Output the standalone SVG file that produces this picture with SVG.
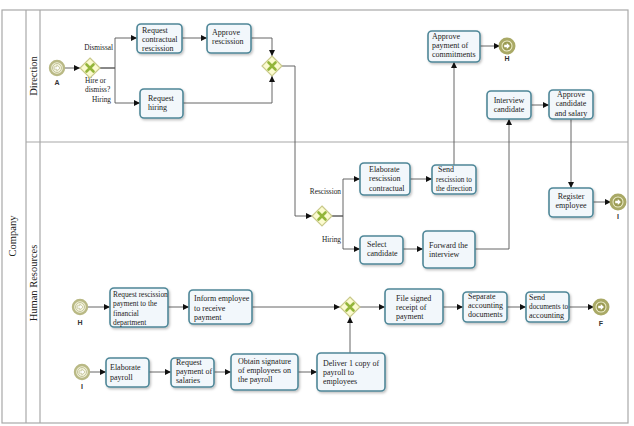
<svg xmlns="http://www.w3.org/2000/svg" width="634" height="426" viewBox="0 0 634 426">
<style>
.pool{fill:none;stroke:#a8a8a8;stroke-width:1.2}
.task rect{fill:#f2f7fb;stroke:#4f8798;stroke-width:1.6;filter:url(#sh)}
.task text{font-family:"Liberation Serif","Times New Roman",serif;font-size:8px;fill:#222}
.c{text-anchor:middle}
.gw polygon{fill:#fbfbcf;stroke:#c9c98a;stroke-width:1.2}
.gw path{stroke:#93b53a;stroke-width:2.6;stroke-linecap:round}
.ev .o{fill:#f3f3dc;stroke:#b9b985;stroke-width:2.4}
.ev .i{fill:none;stroke:#c4c49a;stroke-width:1}
.ev .ah{fill:#ffffff;stroke:#c4c49a;stroke-width:0.8}
.end .o{fill:#eeeecb;stroke:#a9a966;stroke-width:3}
.end .i{fill:#9a9a52;stroke:none}
.end .ah{fill:#ffffff;stroke:none}
.lbl{font-family:"Liberation Sans",Arial,sans-serif;font-size:7px;font-weight:bold;fill:#333;text-anchor:middle}
.gl{font-family:"Liberation Serif","Times New Roman",serif;font-size:7.3px;fill:#222}
.lane{font-family:"Liberation Serif","Times New Roman",serif;font-size:10.5px;fill:#222;text-anchor:middle}
#connectors path{fill:none;stroke:#555;stroke-width:0.9;marker-end:url(#arr)}
</style>
<defs>
<marker id="arr" markerUnits="userSpaceOnUse" markerWidth="7" markerHeight="6" refX="6" refY="3" orient="auto">
<path d="M0,0 L6,3 L0,6 z" fill="#111"/>
</marker>
<filter id="sh" x="-20%" y="-20%" width="150%" height="150%">
<feDropShadow dx="1.2" dy="1.5" stdDeviation="0.8" flood-color="#000" flood-opacity="0.25"/>
</filter>
</defs>
<rect width="634" height="426" fill="#ffffff"/>

<g id="pool">
<rect class="pool" x="2" y="10" width="626" height="413"/>
<line class="pool" x1="26" y1="10" x2="26" y2="423"/>
<line class="pool" x1="40" y1="10" x2="40" y2="423"/>
<line class="pool" x1="26" y1="142" x2="628" y2="142"/>
<text class="lane" transform="translate(16,236) rotate(-90)">Company</text>
<text class="lane" transform="translate(37,76) rotate(-90)">Direction</text>
<text class="lane" transform="translate(37,283) rotate(-90)">Human Resources</text>
</g>

<g id="connectors">
<path d="M64,68 H80"/>
<path d="M100,68 H115 V38 H137"/>
<path d="M100,68 H115 V103 H140"/>
<path d="M182,38 H207"/>
<path d="M251,38 H272 V56"/>
<path d="M183,103 H272 V76"/>
<path d="M282,66 H295 V216 H312"/>
<path d="M332,216 H343 V179 H360"/>
<path d="M332,216 H343 V249 H360"/>
<path d="M410,179 H432"/>
<path d="M454,165 V62"/>
<path d="M480,46 H500"/>
<path d="M403,249 H423"/>
<path d="M475,249 H509 V119"/>
<path d="M531,105 H549"/>
<path d="M571,119 V188"/>
<path d="M593,202 H611"/>
<path d="M87,307 H110"/>
<path d="M168,307 H189"/>
<path d="M252,307 H340"/>
<path d="M89,372 H106"/>
<path d="M149,372 H171"/>
<path d="M214,372 H231"/>
<path d="M298,372 H317"/>
<path d="M350,353 V317"/>
<path d="M360,307 H385"/>
<path d="M443,307 H463"/>
<path d="M507,307 H526"/>
<path d="M569,307 H594"/>
<text class="gl" x="113" y="50" text-anchor="end">Dismissal</text>
<text class="gl" x="85" y="83">Hire or</text>
<text class="gl" x="85" y="92">dismiss?</text>
<text class="gl" x="111" y="102" text-anchor="end">Hiring</text>
<text class="gl" x="341" y="194" text-anchor="end">Rescission</text>
<text class="gl" x="341" y="242" text-anchor="end">Hiring</text>
</g>

<g id="startA" class="ev">
<circle class="o" cx="57" cy="68" r="7"/>
<circle class="i" cx="57" cy="68" r="4.5"/>
<path class="ah" d="M54.2,66.8 H56.8 V65 L60,68 L56.8,71 V69.2 H54.2 z"/>
<text class="lbl" x="57" y="85">A</text>
</g>

<g id="gw1" class="gw">
<polygon points="90,58 100,68 90,78 80,68"/>
<path d="M86.5,64.5 L93.5,71.5 M93.5,64.5 L86.5,71.5"/>
</g>

<g id="t_rcr" class="task">
<rect x="137" y="24" width="45" height="29" rx="4"/>
<text x="142" y="33">Request</text>
<text x="142" y="42">contractual</text>
<text x="142" y="51">rescission</text>
</g>

<g id="t_ar" class="task">
<rect x="207" y="24" width="44" height="29" rx="4"/>
<text x="212" y="35">Approve</text>
<text x="212" y="44">rescission</text>
</g>

<g id="t_rh" class="task">
<rect x="140" y="89" width="43" height="29" rx="4"/>
<text x="148" y="101">Request</text>
<text x="148" y="110">hiring</text>
</g>

<g id="gw2" class="gw">
<polygon points="272,56 282,66 272,76 262,66"/>
<path d="M268.5,62.5 L275.5,69.5 M275.5,62.5 L268.5,69.5"/>
</g>

<g id="t_apc" class="task">
<rect x="428" y="31" width="52" height="31" rx="4"/>
<text x="432" y="39">Approve</text>
<text x="432" y="48">payment of</text>
<text x="432" y="57">commitments</text>
</g>

<g id="endH" class="ev end">
<circle class="o" cx="507" cy="46" r="7"/>
<circle class="i" cx="507" cy="46" r="4.5"/>
<path class="ah" d="M504.2,44.8 H506.8 V43 L510,46 L506.8,49 V47.2 H504.2 z"/>
<text class="lbl" x="507" y="61">H</text>
</g>

<g id="t_ic" class="task">
<rect x="487" y="91" width="44" height="28" rx="4"/>
<text class="c" x="509" y="103">Interview</text>
<text class="c" x="509" y="112">candidate</text>
</g>

<g id="t_acs" class="task">
<rect x="549" y="90" width="44" height="29" rx="4"/>
<text class="c" x="571" y="97">Approve</text>
<text class="c" x="571" y="106">candidate</text>
<text class="c" x="571" y="116">and salary</text>
</g>

<g id="gw3" class="gw">
<polygon points="322,206 332,216 322,226 312,216"/>
<path d="M318.5,212.5 L325.5,219.5 M325.5,212.5 L318.5,219.5"/>
</g>

<g id="t_erc" class="task">
<rect x="360" y="163" width="50" height="32" rx="4"/>
<text x="369" y="172">Elaborate</text>
<text x="369" y="181">rescission</text>
<text x="369" y="191">contractual</text>
</g>

<g id="t_srd" class="task">
<rect x="432" y="165" width="44" height="29" rx="4"/>
<text x="438" y="172">Send</text>
<text x="436" y="182" style="font-size:7.2px">rescission to</text>
<text x="436" y="191" style="font-size:7.2px">the direction</text>
</g>

<g id="t_sc" class="task">
<rect x="360" y="236" width="43" height="28" rx="4"/>
<text x="367" y="247">Select</text>
<text x="367" y="256">candidate</text>
</g>

<g id="t_fi" class="task">
<rect x="423" y="231" width="52" height="37" rx="4"/>
<text x="429" y="248">Forward the</text>
<text x="429" y="257">interview</text>
</g>

<g id="t_re" class="task">
<rect x="549" y="188" width="44" height="29" rx="4"/>
<text class="c" x="571" y="199">Register</text>
<text class="c" x="571" y="208">employee</text>
</g>

<g id="endI" class="ev end">
<circle class="o" cx="618" cy="202" r="7"/>
<circle class="i" cx="618" cy="202" r="4.5"/>
<path class="ah" d="M615.2,200.8 H617.8 V199 L621,202 L617.8,205 V203.2 H615.2 z"/>
<text class="lbl" x="618" y="219">I</text>
</g>

<g id="startH" class="ev">
<circle class="o" cx="80" cy="307" r="7"/>
<circle class="i" cx="80" cy="307" r="4.5"/>
<path class="ah" d="M77.2,305.8 H79.8 V304 L83,307 L79.8,310 V308.2 H77.2 z"/>
<text class="lbl" x="80" y="325">H</text>
</g>

<g id="t_rrp" class="task">
<rect x="110" y="288" width="58" height="39" rx="4"/>
<text x="113" y="297" style="font-size:7.4px">Request rescission</text>
<text x="113" y="306" style="font-size:7.4px">payment to the</text>
<text x="113" y="315.5" style="font-size:7.4px">financial</text>
<text x="113" y="325" style="font-size:7.4px">department</text>
</g>

<g id="t_ie" class="task">
<rect x="189" y="290" width="63" height="34" rx="4"/>
<text x="194" y="301">Inform employee</text>
<text x="194" y="311">to receive</text>
<text x="194" y="320">payment</text>
</g>

<g id="gw4" class="gw">
<polygon points="350,297 360,307 350,317 340,307"/>
<path d="M346.5,303.5 L353.5,310.5 M353.5,303.5 L346.5,310.5"/>
</g>

<g id="startI" class="ev">
<circle class="o" cx="82" cy="372" r="7"/>
<circle class="i" cx="82" cy="372" r="4.5"/>
<path class="ah" d="M79.2,370.8 H81.8 V369 L85,372 L81.8,375 V373.2 H79.2 z"/>
<text class="lbl" x="82" y="389">I</text>
</g>

<g id="t_ep" class="task">
<rect x="106" y="358" width="43" height="29" rx="4"/>
<text x="110" y="370">Elaborate</text>
<text x="110" y="380">payroll</text>
</g>

<g id="t_rps" class="task">
<rect x="171" y="358" width="43" height="29" rx="4"/>
<text x="176" y="365">Request</text>
<text x="176" y="374">payment of</text>
<text x="176" y="383">salaries</text>
</g>

<g id="t_os" class="task">
<rect x="231" y="354" width="67" height="36" rx="4"/>
<text x="238" y="364">Obtain signature</text>
<text x="238" y="373"> of employees on</text>
<text x="238" y="382">the payroll</text>
</g>

<g id="t_d1" class="task">
<rect x="317" y="353" width="68" height="38" rx="4"/>
<text x="323" y="366">Deliver 1 copy of</text>
<text x="323" y="375">payroll to</text>
<text x="323" y="384">employees</text>
</g>

<g id="t_fsr" class="task">
<rect x="385" y="289" width="58" height="35" rx="4"/>
<text x="396" y="301">File signed</text>
<text x="396" y="310">receipt of</text>
<text x="396" y="319">payment</text>
</g>

<g id="t_sad" class="task">
<rect x="463" y="292" width="44" height="30" rx="4"/>
<text x="468" y="299">Separate</text>
<text x="468" y="308">accounting</text>
<text x="468" y="317">documents</text>
</g>

<g id="t_sda" class="task">
<rect x="526" y="292" width="43" height="30" rx="4"/>
<text x="529" y="300">Send</text>
<text x="529" y="309" style="font-size:7.3px">documents to</text>
<text x="529" y="318">accounting</text>
</g>

<g id="endF" class="ev end">
<circle class="o" cx="601" cy="307" r="7"/>
<circle class="i" cx="601" cy="307" r="4.5"/>
<path class="ah" d="M598.2,305.8 H600.8 V304 L604,307 L600.8,310 V308.2 H598.2 z"/>
<text class="lbl" x="601" y="326">F</text>
</g>
</svg>
